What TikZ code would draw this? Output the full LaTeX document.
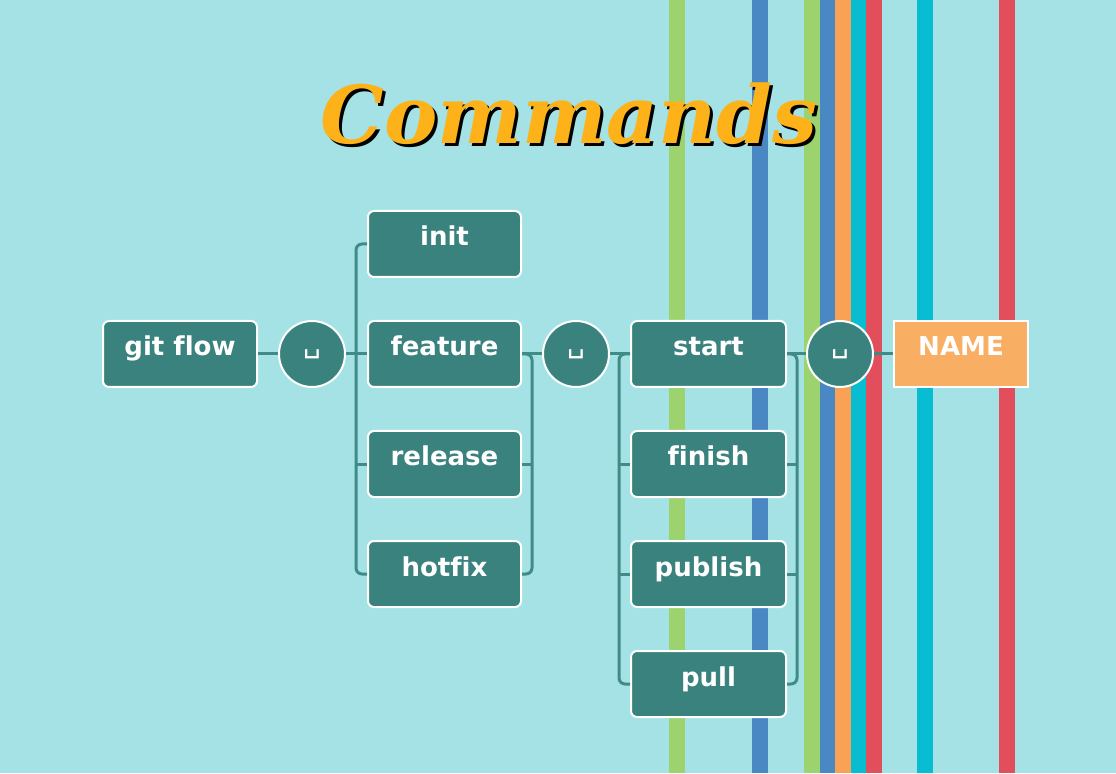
\documentclass[tikz,border=0pt]{standalone}
\usepackage{fontspec,xcolor,tikz}
\definecolor{grund}{HTML}{A5E2E5}
\definecolor{knopf}{HTML}{3A827E}
\definecolor{linie}{HTML}{418B86}
\definecolor{gruen}{HTML}{9DD36E}
\definecolor{blau}{HTML}{4A88C4}
\definecolor{orange}{HTML}{F9A155}
\definecolor{tuerkis}{HTML}{08BDD2}
\definecolor{rot}{HTML}{E24E5C}
\definecolor{namefeld}{HTML}{F8AF64}
\definecolor{titelgelb}{HTML}{FDB21A}
\newfontfamily\boxfont[Ligatures=NoCommon]{DejaVu Sans}
\newfontfamily\titelfont{DejaVu Serif}
\newcommand{\knopfschrift}{\fontsize{13}{15}\selectfont\boxfont\bfseries}
\newcommand{\leerschrift}{\fontsize{14}{16}\selectfont\boxfont}
\newcommand{\titelschrift}{\fontsize{40}{48}\selectfont\titelfont\bfseries\itshape}
\tikzset{cmd/.style={rounded corners=3pt,fill=knopf,draw=white,line width=1pt,
    minimum width=76.5pt,minimum height=33pt,inner sep=0,text=white,
    font=\knopfschrift,text height=9pt,text depth=7pt},
  leer/.style={circle,fill=knopf,draw=white,line width=1pt,minimum size=33pt,
    inner sep=0,text=white,font=\leerschrift},
  namebox/.style={cmd,rounded corners=0pt,fill=namefeld,minimum width=67pt},
  verbinder/.style={linie,line width=1.5pt,rounded corners=3pt}}

\begin{document}
\begin{tikzpicture}[x=0.5pt,y=0.5pt]
\useasboundingbox (0,0) rectangle (1116,773);
% Hintergrund und farbige Streifen; Syntaxbaum git flow -> Befehl -> Aktion -> NAME
\fill[grund] (0,0) rectangle (1116,773);
\foreach \x/\farbe in {669/gruen,752/blau,804/gruen,820/blau,835/orange,851/tuerkis,
  866/rot,917/tuerkis,999/rot}
  \fill[\farbe] (\x,0) rectangle ++(16,773);
\node[font=\titelschrift,text=black] (titelschatten) at (572,656) {Commands};
\node[font=\titelschrift,text=titelgelb] (titel) at (569,659) {Commands};
\node[cmd,minimum width=77pt] (gitflow) at (180,419) {git flow};
\node[leer] (sp1) at (312,419) {␣};
\node[cmd] (init) at (444.5,529) {init};
\node[cmd] (feature) at (444.5,419) {feature};
\node[cmd] (release) at (444.5,309) {release};
\node[cmd] (hotfix) at (444.5,199) {hotfix};
\node[leer] (sp2) at (576,419) {␣};
\node[cmd,minimum width=77.5pt] (start) at (708.5,419) {start};
\node[cmd,minimum width=77.5pt] (finish) at (708.5,309) {finish};
\node[cmd,minimum width=77.5pt] (publish) at (708.5,199) {publish};
\node[cmd,minimum width=77.5pt] (pull) at (708.5,89) {pull};
\node[leer] (sp3) at (840,419) {␣};
\node[namebox] (name) at (961,419) {NAME};
% Sammelschienen links und rechts der Spalten
\draw[verbinder] (gitflow) -- (sp1) (sp1) -- (feature) (feature) -- (sp2)
  (sp2) -- (start) (start) -- (sp3) (sp3) -- (name);
\draw[verbinder] (init.west) -- ++(-11,0) |- (hotfix.west);
\draw[verbinder] (release.west) -- ++(-11,0);
\draw[verbinder] (feature.east) -- ++(10,0) |- (hotfix.east);
\draw[verbinder] (release.east) -- ++(10,0);
\draw[verbinder] (start.west) -- ++(-11,0) |- (pull.west);
\draw[verbinder] (finish.west) -- ++(-11,0) (publish.west) -- ++(-11,0);
\draw[verbinder] (start.east) -- ++(10,0) |- (pull.east);
\draw[verbinder] (finish.east) -- ++(10,0) (publish.east) -- ++(10,0);
\end{tikzpicture}
\end{document}
